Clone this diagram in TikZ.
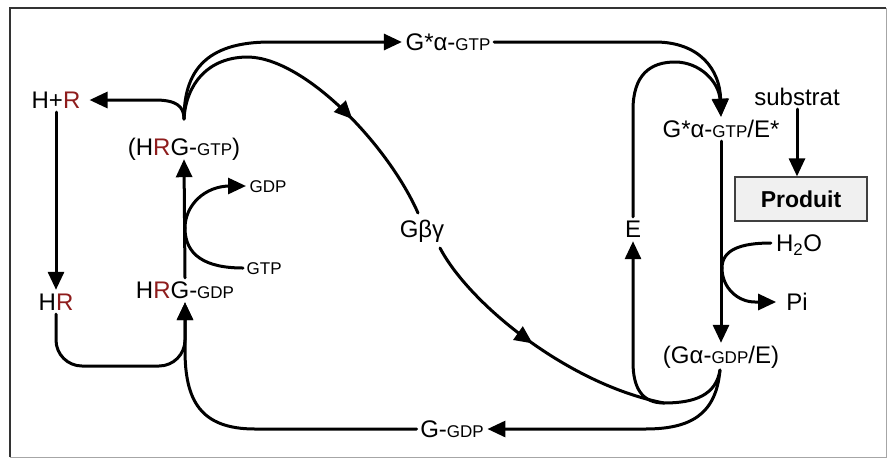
\documentclass[tikz,border=0pt]{standalone}
\usepackage{fontspec}
\setmainfont{Liberation Sans}
\usetikzlibrary{arrows.meta,decorations.markings}
\definecolor{rdark}{HTML}{8E1C1C}
\newcommand\mysc[1]{{\fontsize{17}{19}\selectfont #1}}
\newcommand\rr{{\color{rdark}R}}
\tikzset{
  lbl/.style={font=\fontsize{24}{28}\selectfont, text height=17pt, text depth=0pt, inner sep=3.5pt},
  slbl/.style={font=\fontsize{17}{19}\selectfont, text height=12pt, text depth=0pt, inner sep=3.5pt},
  ln/.style={line width=3pt, line cap=round},
  arr/.style={ln, -{Triangle[length=18pt,width=16pt]}},
  midarr/.style={ln, postaction={decorate}, decoration={markings, mark=at position #1 with {\arrow{Triangle[length=18pt,width=16pt]}}}},
  prodbox/.style={draw=black!75, fill=black!6, line width=1.3pt, minimum width=132pt, minimum height=44pt, font=\fontsize{23}{27}\selectfont\bfseries}
}
\begin{document}
\begin{tikzpicture}[x=1pt,y=-1pt]
\useasboundingbox (0,0) rectangle (888,459);
\fill[white] (0,0) rectangle (888,459);
% frame
\draw[black!35, line width=1pt] (10,8) rectangle (886,457);
\draw[black!80, line width=2pt] (10,457) -- (10,8) -- (886,8);

% nodes
\node[lbl, inner xsep=9pt] (HpR) at (56,100) {H+\rr};
\node[lbl] (HRGt) at (184,147) {(H\rr G-\mysc{GTP})};
\node[lbl] (HR) at (56,302) {H\rr};
\node[lbl] (HRGd) at (185,290) {H\rr G-\mysc{GDP}};
\node[slbl, anchor=west] (GDP) at (246,186) {GDP};
\node[slbl, anchor=west] (GTP) at (243,268) {GTP};
\node[lbl] (Gs) at (448,42) {G*α-\mysc{GTP}};
\node[lbl] (Gbg) at (422,229) {Gβγ};
\node[lbl] (GsE) at (721,129) {G*α-\mysc{GTP}/E*};
\node[lbl] (sub) at (797,97) {substrat};
\node[prodbox] (Prod) at (801,199) {Produit};
\node[lbl] (E) at (633,229) {E};
\node[lbl, inner xsep=5pt] (H2O) at (799,243) {H\textsubscript{2}O};
\node[lbl, inner xsep=10pt] (Pi) at (797,302) {Pi};
\node[lbl] (GaE) at (721,355) {(Gα-\mysc{GDP}/E)};
\node[lbl] (GG) at (452,429) {G-\mysc{GDP}};

% helper coordinates
\coordinate (st) at (184,119);
\coordinate (gb) at (720,370);
\coordinate (g1) at (418,213);
\coordinate (g2) at (440,248);
\coordinate (mg) at (664,403);
\coordinate (jn) at (185,228);
\coordinate (jh) at (722,268);

% left cycle
\draw[arr] (HpR.south) -- (HR.north);
\draw[arr, rounded corners=26pt] (HR.south) |- (185,366) -- (HRGd.south);
\draw[arr] (GG.west) -- (255,429) .. controls (200,429) and (185,400) .. (185,350) -- (HRGd.south);
\draw[arr] (HRGd.north) -- (HRGt.south);
\draw[ln] (GTP.west) .. controls (205,268) and (185,255) .. (jn);
\draw[arr] (jn) .. controls (185,205) and (205,186) .. (230,186) -- (GDP.west);

% from (HRG-GTP)
\draw[arr] (st) .. controls (184,106) and (176,100) .. (155,100) -- (HpR.east);
\draw[arr] (st) .. controls (184,72) and (205,42) .. (270,42) -- (Gs.west);
\draw[midarr=0.66] (st) .. controls (186,84) and (208,57) .. (248,57) .. controls (305,58) and (388,145) .. (g1);

% top right
\draw[arr] (Gs.east) -- (655,42) .. controls (700,42) and (720,70) .. (GsE.north);
\draw[arr] (E.north) -- (633,110) .. controls (633,75) and (650,62) .. (675,62) .. controls (700,62) and (719,82) .. (GsE.north);
\draw[arr] (GsE.south) -- (GaE.north);
\draw[ln] (H2O.west) .. controls (740,243) and (jh |- 0,250) .. (jh);
\draw[arr] (jh) .. controls (722,288) and (738,302) .. (755,302) -- (Pi.west);
\draw[arr] (sub.south) -- (sub.south |- Prod.north);

% bottom right
\draw[midarr=0.48] (g2) .. controls (470,305) and (570,385) .. (mg);
\draw[arr] (gb) .. controls (716,395) and (695,403) .. (mg) .. controls (642,403) and (633,388) .. (633,362) -- (E.south);
\draw[arr] (gb) .. controls (716,415) and (690,429) .. (645,429) -- (GG.east);
\end{tikzpicture}
\end{document}
